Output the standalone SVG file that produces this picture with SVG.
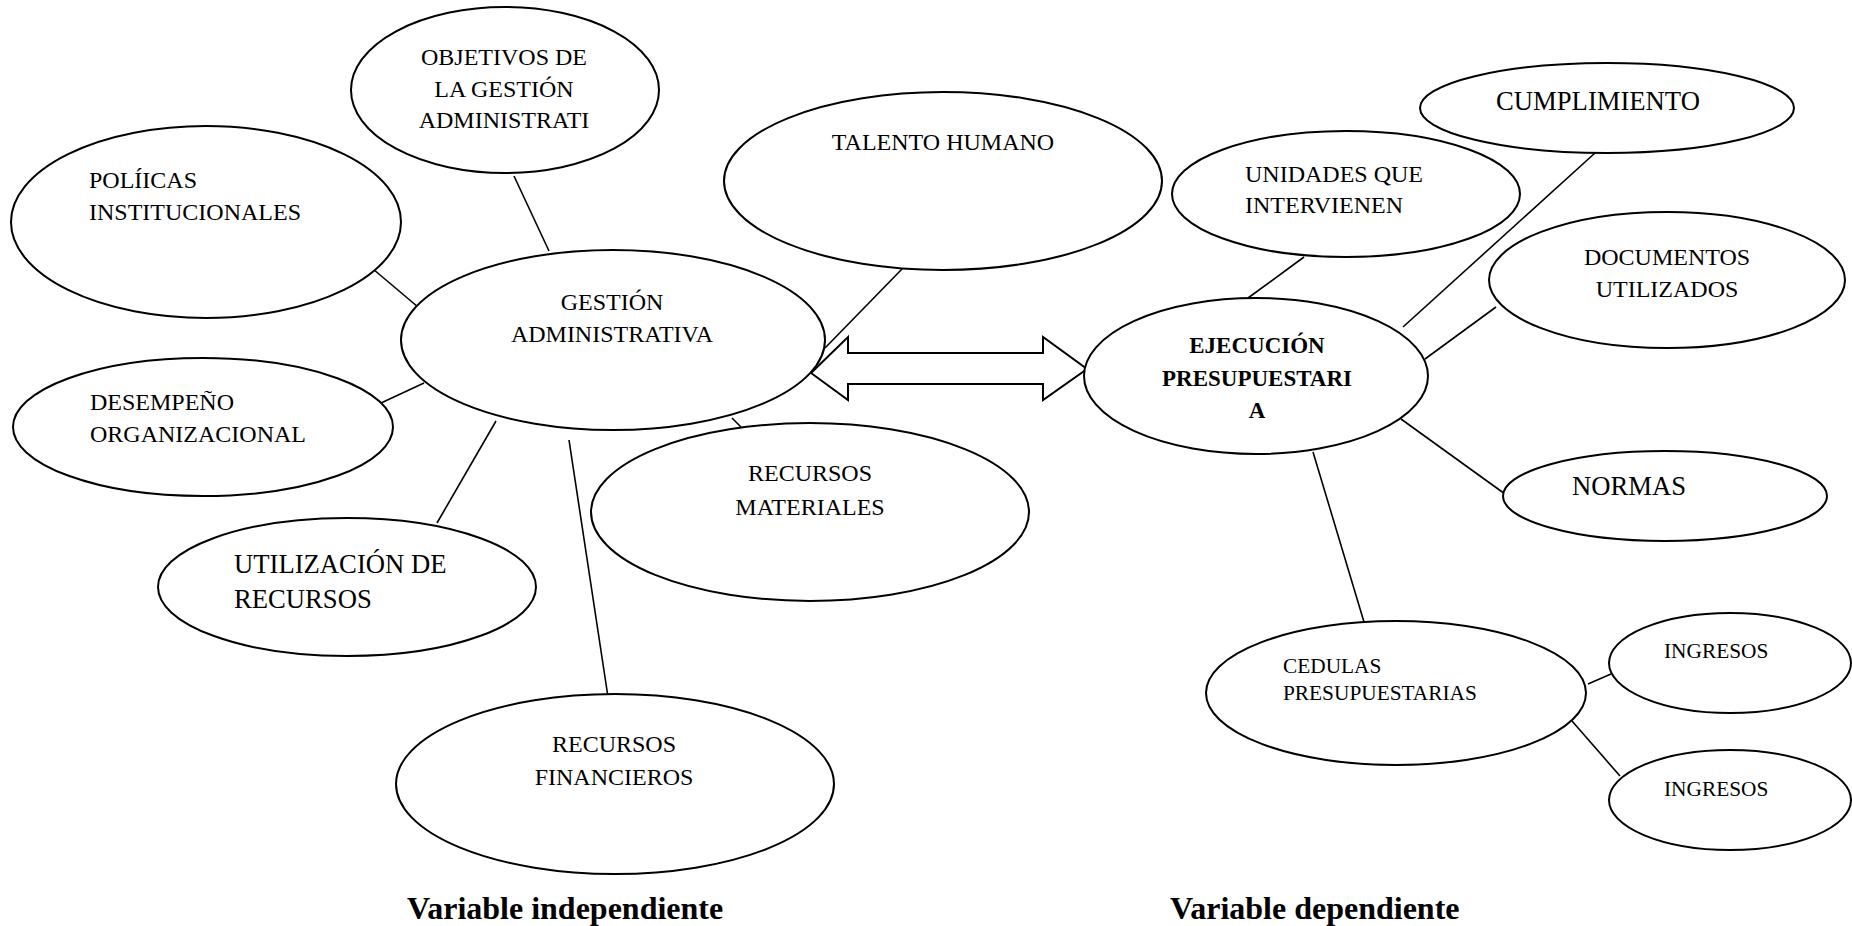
<svg xmlns="http://www.w3.org/2000/svg" width="1852" height="926" viewBox="0 0 1852 926">
<style>
.n{fill:#fff;stroke:#000;stroke-width:2}
.c line{stroke:#000;stroke-width:1.6}
text{font-family:"Liberation Serif","Times New Roman",serif;fill:#000}
.s{font-size:24px}
.m{font-size:26.67px}
.t{font-size:21.33px}
.b{font-weight:bold;font-size:23px}
.lab{font-weight:bold;font-size:32px}
.mid{text-anchor:middle}
</style>
<rect width="1852" height="926" fill="#fff"/>
<g id="connectors" class="c">
<line x1="514" y1="176" x2="549" y2="251"/>
<line x1="373" y1="269" x2="418" y2="307"/>
<line x1="381" y1="403" x2="424" y2="383"/>
<line x1="902" y1="269" x2="825" y2="348"/>
<line x1="732" y1="418" x2="741" y2="427"/>
<line x1="496" y1="421" x2="437" y2="523"/>
<line x1="569" y1="440" x2="608" y2="697"/>
<line x1="1304" y1="257" x2="1248" y2="298"/>
<line x1="1595" y1="153" x2="1403" y2="327"/>
<line x1="1496" y1="307" x2="1425" y2="359"/>
<line x1="1401" y1="419" x2="1505" y2="494"/>
<line x1="1313" y1="452" x2="1364" y2="622"/>
<line x1="1588" y1="684" x2="1611" y2="674"/>
<line x1="1572" y1="721" x2="1620" y2="776"/>
<polygon points="811,373 848,337 848,353 1043,353 1043,337 1087,369 1043,400 1043,384 848,384 848,400" fill="#fff" stroke="#000" stroke-width="2"/>
</g>
<g id="n-objetivos"><ellipse class="n" cx="505" cy="90" rx="154" ry="83"/>
<text class="s mid" x="504" y="65">OBJETIVOS DE</text><text class="s mid" x="504" y="97">LA GESTIÓN</text><text class="s mid" x="504" y="128">ADMINISTRATI</text></g>
<g id="n-politicas"><ellipse class="n" cx="206" cy="222" rx="195" ry="96"/>
<text class="s" x="89" y="188">POLÍICAS</text><text class="s" x="89" y="220">INSTITUCIONALES</text></g>
<g id="n-talento"><ellipse class="n" cx="943" cy="181" rx="219" ry="89"/>
<text class="s mid" x="943" y="150">TALENTO HUMANO</text></g>
<g id="n-desempeno"><ellipse class="n" cx="203" cy="427" rx="190" ry="69"/>
<text class="s" x="90" y="410">DESEMPEÑO</text><text class="s" x="90" y="442">ORGANIZACIONAL</text></g>
<g id="n-gestion"><ellipse class="n" cx="613" cy="340" rx="212" ry="90"/>
<text class="s mid" x="612" y="310">GESTIÓN</text><text class="s mid" x="612" y="342">ADMINISTRATIVA</text></g>
<g id="n-materiales"><ellipse class="n" cx="810" cy="512" rx="219" ry="89"/>
<text class="s mid" x="810" y="481">RECURSOS</text><text class="s mid" x="810" y="515">MATERIALES</text></g>
<g id="n-utilizacion"><ellipse class="n" cx="347" cy="587" rx="189" ry="69"/>
<text class="m" x="234" y="573">UTILIZACIÓN DE</text><text class="m" x="234" y="608">RECURSOS</text></g>
<g id="n-financieros"><ellipse class="n" cx="615" cy="784" rx="219" ry="90"/>
<text class="s mid" x="614" y="752">RECURSOS</text><text class="s mid" x="614" y="785">FINANCIEROS</text></g>
<g id="n-cumplimiento"><ellipse class="n" cx="1607" cy="108" rx="187" ry="45"/>
<text class="m mid" x="1598" y="110">CUMPLIMIENTO</text></g>
<g id="n-unidades"><ellipse class="n" cx="1346" cy="194" rx="174" ry="63"/>
<text class="s" x="1245" y="182">UNIDADES QUE</text><text class="s" x="1245" y="213">INTERVIENEN</text></g>
<g id="n-documentos"><ellipse class="n" cx="1667" cy="280" rx="178" ry="68"/>
<text class="s mid" x="1667" y="265">DOCUMENTOS</text><text class="s mid" x="1667" y="297">UTILIZADOS</text></g>
<g id="n-ejecucion"><ellipse class="n" cx="1256" cy="376" rx="172" ry="78"/>
<text class="b mid" x="1257" y="353">EJECUCIÓN</text><text class="b mid" x="1257" y="386">PRESUPUESTARI</text><text class="b mid" x="1257" y="418">A</text></g>
<g id="n-normas"><ellipse class="n" cx="1665" cy="496" rx="162" ry="45"/>
<text class="m" x="1572" y="495">NORMAS</text></g>
<g id="n-cedulas"><ellipse class="n" cx="1396" cy="693" rx="190" ry="72"/>
<text class="t" x="1283" y="673">CEDULAS</text><text class="t" x="1283" y="700">PRESUPUESTARIAS</text></g>
<g id="n-ingresos1"><ellipse class="n" cx="1730" cy="663" rx="121" ry="50"/>
<text class="t" x="1664" y="658">INGRESOS</text></g>
<g id="n-ingresos2"><ellipse class="n" cx="1730" cy="800" rx="121" ry="50"/>
<text class="t" x="1664" y="796">INGRESOS</text></g>
<g id="labels">
<text class="lab" x="407" y="919">Variable independiente</text>
<text class="lab" x="1170" y="919">Variable dependiente</text>
</g>
</svg>
